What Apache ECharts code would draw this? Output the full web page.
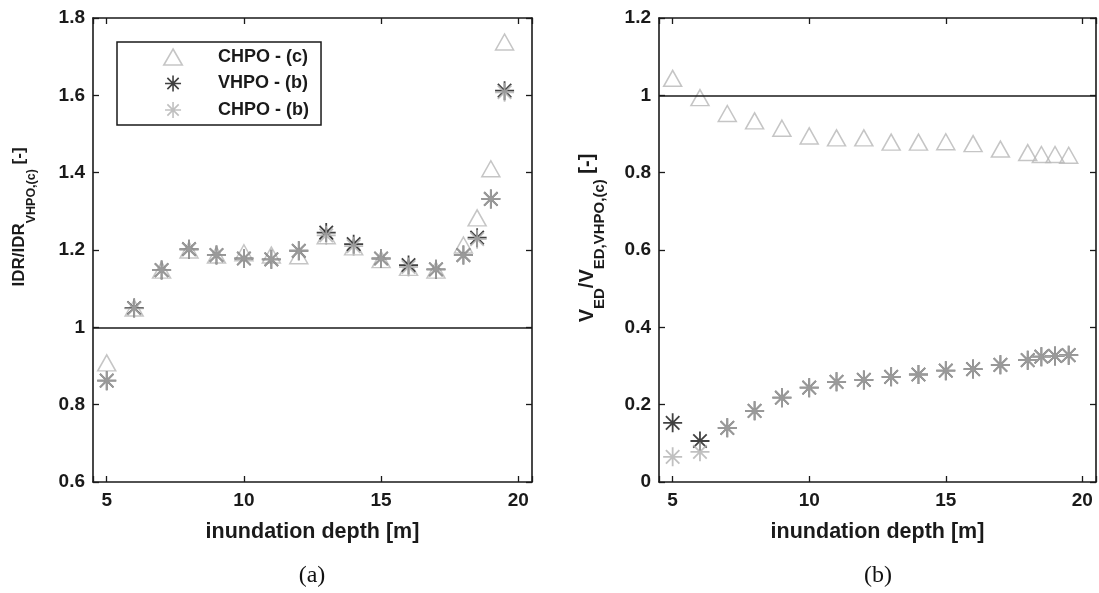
<!DOCTYPE html>
<html>
<head>
<meta charset="utf-8">
<script src="https://cdn.jsdelivr.net/npm/echarts@6/dist/echarts.min.js"></script>
<style>
html,body{margin:0;padding:0;background:#fff;}
#c{width:1099px;height:593px;}
</style>
</head>
<body>
<div id="c"></div>
<script>
// ---- data ----
const depth = [5, 6, 7, 8, 9, 10, 11, 12, 13, 14, 15, 16, 17, 18, 18.5, 19, 19.5];
// (a) IDR / IDR_VHPO,(c)
const idrChpoC = [0.908, 1.05, 1.148, 1.2, 1.187, 1.193, 1.187, 1.185, 1.237, 1.208, 1.175, 1.155, 1.148, 1.213, 1.283, 1.41, 1.738];
const idrVhpoB = [0.862, 1.05, 1.148, 1.202, 1.187, 1.178, 1.176, 1.198, 1.245, 1.215, 1.178, 1.161, 1.15, 1.187, 1.232, 1.332, 1.612];
const idrChpoB = [0.862, 1.049, 1.148, 1.202, 1.187, 1.178, 1.176, 1.198, 1.238, 1.21, 1.178, 1.156, 1.15, 1.187, 1.228, 1.332, 1.608];
// (b) V_ED / V_ED,VHPO,(c)
const vedChpoC = [1.044, 0.994, 0.953, 0.934, 0.915, 0.895, 0.89, 0.89, 0.879, 0.879, 0.88, 0.875, 0.861, 0.852, 0.847, 0.847, 0.845];
const vedVhpoB = [0.153, 0.106, 0.140, 0.184, 0.218, 0.244, 0.259, 0.264, 0.272, 0.278, 0.288, 0.292, 0.303, 0.315, 0.324, 0.326, 0.328];
const vedChpoB = [0.065, 0.078, 0.140, 0.184, 0.218, 0.244, 0.259, 0.264, 0.272, 0.278, 0.288, 0.292, 0.303, 0.315, 0.324, 0.326, 0.328];
const seriesNames = ['CHPO - (c)', 'VHPO - (b)', 'CHPO - (b)'];
const xTickValues = [5, 10, 15, 20];
const yTicksA = [0.6, 0.8, 1, 1.2, 1.4, 1.6, 1.8];
const yTicksB = [0, 0.2, 0.4, 0.6, 0.8, 1, 1.2];
const xName = 'inundation depth [m]';
const yNameA = '{a|IDR/IDR}{b|VHPO,(c)}{a| [-]}';
const yNameB = '{a|V}{b|ED}{a|/V}{b|ED,VHPO,(c)}{a| [-]}';
const panelLabels = ['(a)', '(b)'];
const refLine = 1;

// ---- styling ----
const SANS = '"Liberation Sans", Arial, Helvetica, sans-serif';
const SERIF = '"Liberation Serif", "Times New Roman", serif';
const AX = '#1a1a1a';
const TRI = 'path://M0,-10L8.66,5L-8.66,5Z';
const AST = 'path://M0,-10L0,10M-10,0L10,0M-7.07,-7.07L7.07,7.07M-7.07,7.07L7.07,-7.07';
const cTri = '#b7b7b7', cBlack = '#111111', cGray = '#b0b0b0';

const pair = arr => depth.map((x, i) => [x, arr[i]]);

function xAx(grid, pos, withLabel) {
  return {
    gridIndex: grid, type: 'value', position: pos, min: 4.5, max: 20.5, splitNumber: 3,
    axisLine: { show: true, onZero: false, lineStyle: { color: AX, width: 1.6 } },
    axisTick: { show: true, inside: true, length: 6, lineStyle: { color: AX, width: 1.3 } },
    splitLine: { show: false },
    axisLabel: {
      show: withLabel, margin: 9, color: AX, fontSize: 19, fontWeight: 'bold', fontFamily: SANS,
      formatter: v => (xTickValues.indexOf(Math.round(v * 100) / 100) >= 0 ? String(v) : '')
    },
    name: withLabel ? xName : '', nameLocation: 'middle', nameGap: 39,
    nameTextStyle: { color: AX, fontSize: 21.5, fontWeight: 'bold', fontFamily: SANS }
  };
}
function yAx(grid, pos, ticks, withLabel, name, shift, gap, fa, fb, pad) {
  return {
    gridIndex: grid, type: 'value', position: pos,
    min: ticks[0], max: ticks[ticks.length - 1], interval: 0.2,
    axisLine: { show: true, onZero: false, lineStyle: { color: AX, width: 1.6 } },
    axisTick: { show: true, inside: true, length: 6, lineStyle: { color: AX, width: 1.3 } },
    splitLine: { show: false },
    axisLabel: { show: withLabel, margin: 8, color: AX, fontSize: 19, fontWeight: 'bold', fontFamily: SANS },
    name: withLabel ? name : '', nameLocation: 'middle', nameGap: gap || 0,
    nameTextStyle: {
      color: AX, fontFamily: SANS, fontWeight: 'bold', padding: [0, 0, 0, shift || 0],
      rich: {
        a: { fontSize: fa || 18, fontWeight: 'bold', fontFamily: SANS, color: AX, lineHeight: (fa || 18) + 2 },
        b: { fontSize: fb || 13, fontWeight: 'bold', fontFamily: SANS, color: AX, lineHeight: (fb || 13) + 1, padding: [pad || 0, 0, 0, 0] }
      }
    }
  };
}

function sc(name, arr, xi, yi, sym, size, color, bw, withLine) {
  const s = {
    name: name, type: 'scatter', xAxisIndex: xi, yAxisIndex: yi,
    symbol: sym, symbolSize: size, data: pair(arr),
    itemStyle: { color: 'transparent', borderColor: color, borderWidth: bw },
    emphasis: { disabled: true }, silent: true
  };
  if (withLine) {
    s.markLine = {
      silent: true, symbol: 'none', animation: false,
      label: { show: false },
      lineStyle: { color: AX, width: 1.5, type: 'solid' },
      data: [{ yAxis: refLine }]
    };
  }
  return s;
}

const chart = echarts.init(document.getElementById('c'), null, { renderer: 'canvas' });
chart.setOption({
  animation: false,
  backgroundColor: '#ffffff',
  grid: [
    { left: 93, top: 18, width: 439, height: 464 },
    { left: 659, top: 18, width: 439, height: 464 }
  ],
  xAxis: [xAx(0, 'bottom', true), xAx(0, 'top', false), xAx(1, 'bottom', true), xAx(1, 'top', false)],
  yAxis: [
    yAx(0, 'left', yTicksA, true, yNameA, 66, 64, 17, 12.5, 24),
    yAx(0, 'right', yTicksA, false),
    yAx(1, 'left', yTicksB, true, yNameB, 24, 61, 20, 15, 26),
    yAx(1, 'right', yTicksB, false)
  ],
  legend: {
    left: 117, top: 42, orient: 'vertical', data: seriesNames,
    itemWidth: 80, itemHeight: 16, itemGap: 8.5, padding: [6, 12, 6, 46],
    borderColor: AX, borderWidth: 1.5, backgroundColor: '#ffffff',
    selectedMode: false, symbolKeepAspect: true,
    itemStyle: { borderWidth: 1.6 },
    textStyle: { fontSize: 18, fontWeight: 'bold', color: AX, fontFamily: SANS }
  },
  series: [
    sc(seriesNames[0], idrChpoC, 0, 0, TRI, [18, 16], cTri, 1.5, true),
    sc(seriesNames[1], idrVhpoB, 0, 0, AST, 19, cBlack, 1.8),
    sc(seriesNames[2], idrChpoB, 0, 0, AST, 19, cGray, 1.8),
    sc(seriesNames[0], vedChpoC, 2, 2, TRI, [18, 16], cTri, 1.5, true),
    sc(seriesNames[1], vedVhpoB, 2, 2, AST, 19, cBlack, 1.8),
    sc(seriesNames[2], vedChpoB, 2, 2, AST, 19, cGray, 1.8)
  ],
  graphic: [
    { type: 'text', x: 312, y: 576, style: { text: panelLabels[0], font: '24px ' + SERIF, fill: '#111', align: 'center', verticalAlign: 'middle' } },
    { type: 'text', x: 878, y: 576, style: { text: panelLabels[1], font: '24px ' + SERIF, fill: '#111', align: 'center', verticalAlign: 'middle' } }
  ]
});
</script>
</body>
</html>
